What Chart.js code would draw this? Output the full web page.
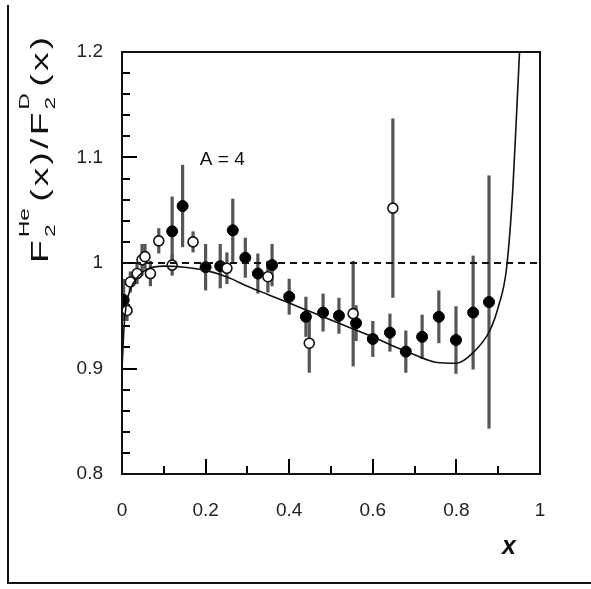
<!DOCTYPE html>
<html>
<head>
<meta charset="utf-8">
<script src="https://cdn.jsdelivr.net/npm/chart.js@4/dist/chart.umd.min.js"></script>
<style>
  html, body { margin: 0; padding: 0; background: #fff; }
  #wrap { width: 591px; height: 589px; position: relative; }
</style>
</head>
<body>
<div id="wrap"><canvas id="myChart" width="591" height="589"></canvas></div>
<script>
// filled points (x, ratio, error)
const filledX = [0.004, 0.12, 0.145, 0.2, 0.235, 0.265, 0.295, 0.325, 0.359, 0.40, 0.44, 0.481, 0.519, 0.56, 0.60, 0.641, 0.679, 0.718, 0.758, 0.799, 0.84, 0.878]
const filledY = [0.965, 1.030, 1.054, 0.996, 0.997, 1.031, 1.005, 0.990, 0.998, 0.968, 0.949, 0.953, 0.950, 0.943, 0.928, 0.934, 0.916, 0.930, 0.949, 0.927, 0.953, 0.963]
const filledErr = [0.02, 0.033, 0.039, 0.022, 0.021, 0.030, 0.019, 0.019, 0.020, 0.017, 0.019, 0.018, 0.017, 0.017, 0.017, 0.018, 0.020, 0.021, 0.025, 0.032, 0.054, 0.12]

// open points
const openX = [0.012, 0.02, 0.036, 0.048, 0.055, 0.068, 0.088, 0.12, 0.17, 0.251, 0.349, 0.448, 0.553, 0.648]
const openY = [0.955, 0.982, 0.990, 1.003, 1.006, 0.990, 1.021, 0.998, 1.020, 0.995, 0.987, 0.924, 0.952, 1.052]
const openErr = [0.01, 0.01, 0.01, 0.015, 0.012, 0.012, 0.012, 0.01, 0.01, 0.015, 0.015, 0.028, 0.05, 0.085]

// model curve
const curveX = [0.0, 0.005, 0.01, 0.02, 0.04, 0.06, 0.1, 0.15, 0.2, 0.25, 0.3, 0.35, 0.4, 0.45, 0.5, 0.55, 0.6, 0.65, 0.7, 0.75, 0.8, 0.84, 0.88, 0.9, 0.92, 0.935, 0.945, 0.951]
const curveY = [0.90, 0.94, 0.96, 0.975, 0.988, 0.994, 0.997, 0.996, 0.993, 0.987, 0.978, 0.970, 0.962, 0.954, 0.946, 0.938, 0.930, 0.921, 0.913, 0.906, 0.905, 0.915, 0.936, 0.958, 0.995, 1.07, 1.15, 1.2]

const refLine = [1, 1]
const xTicks = [0, 0.1, 0.2, 0.3, 0.4, 0.5, 0.6, 0.7, 0.8, 0.9, 1]
const yTicks = [0.8, 0.82, 0.84, 0.86, 0.88, 0.9, 0.92, 0.94, 0.96, 0.98, 1, 1.02, 1.04, 1.06, 1.08, 1.1, 1.12, 1.14, 1.16, 1.18, 1.2]

const toPts = (xs, ys) => xs.map((x, i) => ({ x: x, y: ys[i] }))
const fmt = (v) => String(Number(v.toFixed(1)))

const FONT = '"Liberation Sans", Arial, sans-serif'

const errorBars = {
    id: 'errorBars',
    beforeDatasetsDraw(chart) {
        const ctx = chart.ctx
        const xs = chart.scales.x, ys = chart.scales.y
        ctx.save()
        ctx.strokeStyle = '#555'
        ctx.lineWidth = 3.2
        const draw = (X, Y, E) => {
            X.forEach((x, i) => {
                const px = xs.getPixelForValue(x)
                ctx.beginPath()
                ctx.moveTo(px, ys.getPixelForValue(Y[i] - E[i]))
                ctx.lineTo(px, ys.getPixelForValue(Y[i] + E[i]))
                ctx.stroke()
            })
        }
        draw(filledX, filledY, filledErr)
        draw(openX, openY, openErr)
        ctx.restore()
    }
}

// inward axis ticks, drawn before the points
const axisTicks = {
    id: 'axisTicks',
    beforeDatasetsDraw(chart) {
        const ctx = chart.ctx
        const a = chart.chartArea
        const xs = chart.scales.x, ys = chart.scales.y
        ctx.save()
        ctx.fillStyle = '#000'
        for (let i = 0; i < xTicks.length; i++) {
            const px = Math.round(xs.getPixelForValue(xTicks[i]))
            const len = i % 2 === 0 ? 15 : 8
            ctx.fillRect(px - 1, a.bottom - len, 2, len)
        }
        for (let i = 0; i < yTicks.length; i++) {
            const py = Math.round(ys.getPixelForValue(yTicks[i]))
            const len = i % 5 === 0 ? 15 : 8
            ctx.fillRect(a.left, py - 1, len, 2)
        }
        ctx.restore()
    }
}

const frame = {
    id: 'frame',
    afterDraw(chart) {
        const ctx = chart.ctx
        const a = chart.chartArea
        const xs = chart.scales.x, ys = chart.scales.y
        ctx.save()
        ctx.setLineDash([])
        ctx.strokeStyle = '#111'
        ctx.lineWidth = 2
        ctx.strokeRect(a.left, a.top, a.right - a.left, a.bottom - a.top)

        // outer page lines
        ctx.beginPath()
        ctx.moveTo(8, 5)
        ctx.lineTo(8, 583)
        ctx.lineTo(591, 583)
        ctx.stroke()

        // label A = 4
        ctx.fillStyle = '#111'
        ctx.font = '19px ' + FONT
        ctx.textAlign = 'center'
        ctx.textBaseline = 'middle'
        ctx.fillText('A = 4', xs.getPixelForValue(0.24), ys.getPixelForValue(1.098))

        // x title
        ctx.font = 'italic bold 25px ' + FONT
        ctx.fillText('x', 509, 547)

        // y title, rotated and stretched along the axis
        const big = '23px ' + FONT, small = '14px ' + FONT
        const pieces = [['F'], ['2', 'He'], ['('], ['x'], [')'], ['/'], ['F'], ['2', 'D'], ['('], ['x'], [')']]
        const widths = pieces.map(p => {
            if (p.length === 1) { ctx.font = big; return ctx.measureText(p[0]).width }
            ctx.font = small
            return Math.max(ctx.measureText(p[0]).width, ctx.measureText(p[1]).width) + 2
        })
        const total = widths.reduce((s, w) => s + w, 0) + 2 * (pieces.length - 1)
        ctx.translate(48, 263)
        ctx.rotate(-Math.PI / 2)
        ctx.scale(226 / total, 1)
        ctx.textAlign = 'left'
        ctx.textBaseline = 'alphabetic'
        let cx = 0
        pieces.forEach((p, i) => {
            if (p.length === 1) {
                ctx.font = big
                ctx.fillText(p[0], cx, 0)
            } else {
                ctx.font = small
                ctx.fillText(p[0], cx, 7)
                ctx.fillText(p[1], cx, -19)
            }
            cx += widths[i] + 2
        })
        ctx.restore()
    }
}

const chart = new Chart(document.getElementById('myChart'), {
    type: 'scatter',
    data: {
        datasets: [
            {
                label: 'ref',
                data: [{ x: 0, y: refLine[0] }, { x: 1, y: refLine[1] }],
                showLine: true,
                borderColor: '#111',
                borderWidth: 1.8,
                borderDash: [7, 5],
                pointRadius: 0
            },
            {
                label: 'curve',
                data: toPts(curveX, curveY),
                showLine: true,
                borderColor: '#111',
                borderWidth: 1.6,
                cubicInterpolationMode: 'monotone',
                pointRadius: 0
            },
            {
                label: 'open',
                data: toPts(openX, openY),
                pointRadius: 5,
                pointBackgroundColor: '#fff',
                pointBorderColor: '#111',
                pointBorderWidth: 1.6
            },
            {
                label: 'filled',
                data: toPts(filledX, filledY),
                pointRadius: 5.5,
                pointBackgroundColor: '#000',
                pointBorderColor: '#000',
                pointBorderWidth: 1
            }
        ]
    },
    options: {
        responsive: false,
        animation: false,
        layout: { padding: { top: 52, right: 51, left: 0, bottom: 0 } },
        plugins: { legend: { display: false }, tooltip: { enabled: false } },
        scales: {
            x: {
                type: 'linear',
                min: 0,
                max: 1,
                ticks: { stepSize: 0.2, padding: 25, color: '#222', font: { family: FONT, size: 19 }, callback: fmt },
                grid: { display: false, drawTicks: false },
                border: { display: false },
                afterFit: (s) => { s.height = 115 }
            },
            y: {
                min: 0.8,
                max: 1.2,
                ticks: { stepSize: 0.1, padding: 19, color: '#222', font: { family: FONT, size: 19 }, callback: fmt },
                grid: { display: false, drawTicks: false },
                border: { display: false },
                afterFit: (s) => { s.width = 122 }
            }
        }
    },
    plugins: [axisTicks, errorBars, frame]
})
</script>
</body>
</html>
